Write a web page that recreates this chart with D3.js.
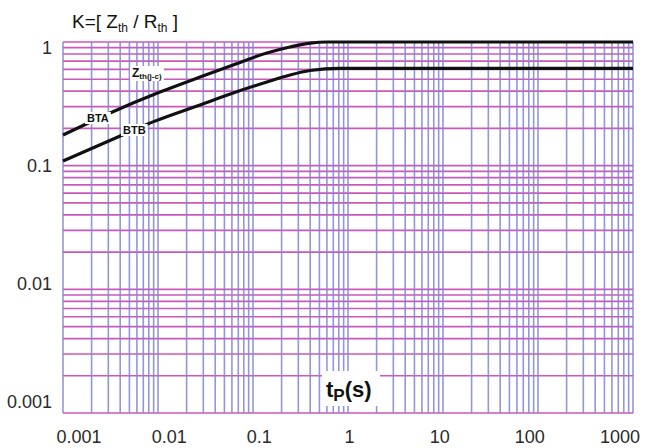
<!DOCTYPE html>
<html>
<head>
<script src="https://d3js.org/d3.v7.min.js"></script>
<style>
  body { margin: 0; background: #fff; font-family: Arial, "Liberation Sans", sans-serif; }
</style>
</head>
<body>
<svg id="chart" width="648" height="448"></svg>
<script>
// pulse duration tp (s) and normalised impedance K for each curve
var tpA = [0.001, 0.00313, 0.0105, 0.0277, 0.0617, 0.14, 0.245, 0.4, 0.6, 1000];
var kA  = [0.177, 0.267, 0.394, 0.521, 0.652, 0.815, 0.911, 0.98, 1.0, 1.0];
var tpB = [0.001, 0.004, 0.00885, 0.0277, 0.0617, 0.14, 0.245, 0.398, 0.824, 1000];
var kB  = [0.109, 0.174, 0.226, 0.31, 0.387, 0.475, 0.541, 0.588, 0.613, 0.613];
var xTicks = [0.001, 0.01, 0.1, 1, 10, 100, 1000];
var xTickLabels = ["0.001", "0.01", "0.1", "1", "10", "100", "1000"];
var yTicks = [0.001, 0.01, 0.1, 1];
var yTickLabels = ["0.001", "0.01", "0.1", "1"];

var plotLeft = 63, plotRight = 633, plotTop = 42, plotBottom = 413;

var svg = d3.select("#chart");

var x = d3.scaleLog().domain([0.001, 1000]).range([plotLeft, plotRight]);
var y = d3.scaleLog().domain([0.001, 1]).range([plotBottom, plotTop]);
// the printed labels sit a little off the grid in the scan
var xLab = d3.scaleLog().domain([0.001, 1000]).range([79, 620]);
var yLab = d3.scaleLog().domain([0.001, 1]).range([402, 48]);

// grid
svg.append("g").selectAll("line")
  .data(y.ticks())
  .enter().append("line")
  .attr("x1", plotLeft).attr("x2", plotRight)
  .attr("y1", function(d) { return y(d); })
  .attr("y2", function(d) { return y(d); })
  .attr("stroke", "#cc58ba")
  .attr("stroke-width", 1.7);

svg.append("g").selectAll("line")
  .data(x.ticks())
  .enter().append("line")
  .attr("y1", plotTop).attr("y2", plotBottom)
  .attr("x1", function(d) { return x(d); })
  .attr("x2", function(d) { return x(d); })
  .attr("stroke", "#7f84d6")
  .attr("stroke-width", 1.6)
  .attr("stroke-opacity", 0.85);

// curves
var line = d3.line()
  .x(function(d) { return x(d[0]); })
  .y(function(d) { return y(d[1]); })
  .curve(d3.curveMonotoneX);

var seriesA = tpA.map(function(t, i) { return [t, kA[i]]; });
var seriesB = tpB.map(function(t, i) { return [t, kB[i]]; });

svg.selectAll("path.curve")
  .data([seriesA, seriesB])
  .enter().append("path")
  .attr("class", "curve")
  .attr("d", line)
  .attr("fill", "none")
  .attr("stroke", "#111")
  .attr("stroke-width", 3.2);

// tick labels
svg.append("g").selectAll("text")
  .data(xTicks)
  .enter().append("text")
  .attr("x", function(d) { return xLab(d); })
  .attr("y", 443)
  .attr("text-anchor", "middle")
  .attr("font-size", 18)
  .attr("fill", "#2a2a2a")
  .text(function(d, i) { return xTickLabels[i]; });

svg.append("g").selectAll("text")
  .data(yTicks)
  .enter().append("text")
  .attr("x", 52)
  .attr("y", function(d) { return yLab(d); })
  .attr("dy", "0.36em")
  .attr("text-anchor", "end")
  .attr("font-size", 18)
  .attr("fill", "#2a2a2a")
  .text(function(d, i) { return yTickLabels[i]; });

// title
var title = svg.append("text")
  .attr("x", 72).attr("y", 28)
  .attr("font-size", 19)
  .attr("fill", "#111");
title.append("tspan").text("K=[ Z");
title.append("tspan").attr("font-size", 12).attr("dy", 4).text("th");
title.append("tspan").attr("dy", -4).text(" / R");
title.append("tspan").attr("font-size", 12).attr("dy", 4).text("th");
title.append("tspan").attr("dy", -4).text(" ]");

// x axis label with white box
svg.append("rect")
  .attr("x", 322).attr("y", 371).attr("width", 58).attr("height", 35)
  .attr("fill", "#fff");
var xl = svg.append("text")
  .attr("x", 326).attr("y", 397)
  .attr("font-size", 22)
  .attr("font-weight", "bold")
  .attr("fill", "#111");
xl.append("tspan").text("t");
xl.append("tspan").attr("font-size", 17).attr("dy", 4).text("P");
xl.append("tspan").attr("dy", -4).text("(s)");

// curve annotations
function note(tx, ty, parts) {
  var t = svg.append("text")
    .attr("x", tx).attr("y", ty)
    .attr("font-weight", "bold")
    .attr("fill", "#111");
  parts.forEach(function(p) {
    t.append("tspan")
      .attr("font-size", p.size)
      .attr("dy", p.dy || 0)
      .text(p.text);
  });
  var b = t.node().getBBox();
  svg.insert("rect", function() { return t.node(); })
    .attr("x", b.x - 2).attr("y", b.y)
    .attr("width", b.width + 4).attr("height", b.height)
    .attr("fill", "#fff");
}
note(87, 122, [{text: "BTA", size: 11}]);
note(123, 134, [{text: "BTB", size: 11}]);
note(132, 77, [{text: "Z", size: 12}, {text: "th(j-c)", size: 8, dy: 2}]);
</script>
</body>
</html>
